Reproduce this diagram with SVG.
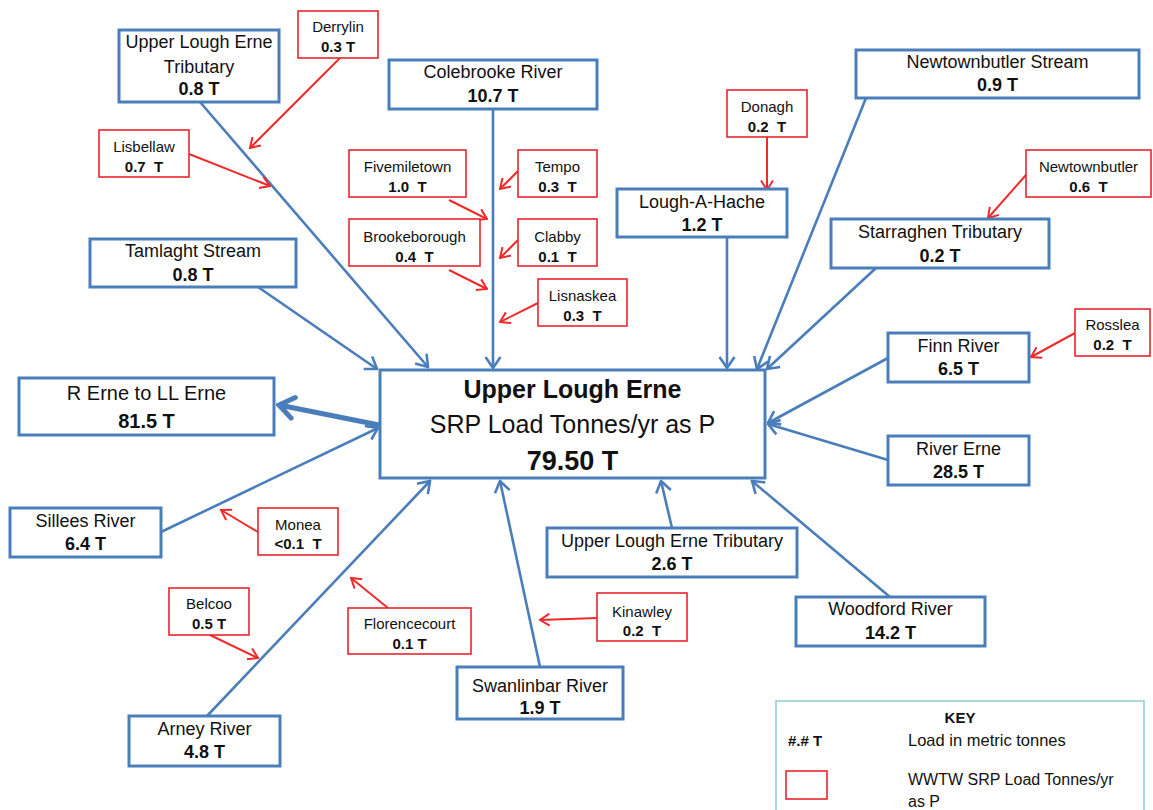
<svg xmlns="http://www.w3.org/2000/svg" width="1153" height="810" viewBox="0 0 1153 810">
<style>
text{font-family:"Liberation Sans",Arial,sans-serif;fill:#111;text-anchor:middle}
.b rect{fill:#fff;stroke:#4A7EBB;stroke-width:3}
.r rect{fill:#fff;stroke:#E8262C;stroke-width:1.6}
.b text{font-size:18px}
.r text{font-size:15px}
.v{font-weight:bold}
.bl{stroke:#4A7EBB;stroke-width:2.6;fill:none;marker-end:url(#ab)}
.rl{stroke:#EE2A2A;stroke-width:2;fill:none;marker-end:url(#ar)}
</style>
<defs>
<marker id="ab" viewBox="0 0 14 18" refX="12.5" refY="9" markerWidth="14" markerHeight="18" markerUnits="userSpaceOnUse" orient="auto">
<path d="M1.5,1.5 L12.5,9 L1.5,16.5" fill="none" stroke="#4A7EBB" stroke-width="2.6"/>
</marker>
<marker id="ar" viewBox="0 0 12 14" refX="10.5" refY="7" markerWidth="12" markerHeight="14" markerUnits="userSpaceOnUse" orient="auto">
<path d="M1,1 L10.5,7 L1,13" fill="none" stroke="#EE2A2A" stroke-width="2"/>
</marker>
<marker id="at" viewBox="0 0 20 26" refX="17" refY="13" markerWidth="20" markerHeight="26" markerUnits="userSpaceOnUse" orient="auto">
<path d="M2.5,2.5 L17,13 L2.5,23.5" fill="none" stroke="#4A7EBB" stroke-width="5" stroke-linecap="round"/>
</marker>
</defs>
<rect width="1153" height="810" fill="#fff"/>
<g id="connectors">
<line class="bl" x1="200" y1="102" x2="428" y2="367"/>
<line class="bl" x1="258" y1="287" x2="377" y2="369"/>
<line class="bl" x1="493" y1="109" x2="493" y2="368"/>
<line class="bl" x1="727" y1="237" x2="727" y2="368"/>
<line class="bl" x1="866" y1="98" x2="757" y2="369"/>
<line class="bl" x1="876" y1="268" x2="767" y2="369"/>
<line class="bl" x1="888" y1="358" x2="768" y2="423"/>
<line class="bl" x1="888" y1="460" x2="768" y2="424"/>
<line class="bl" x1="890" y1="597" x2="752" y2="481"/>
<line class="bl" x1="672" y1="528" x2="661" y2="481"/>
<line class="bl" x1="540" y1="667" x2="500" y2="481"/>
<line class="bl" x1="207" y1="716" x2="430" y2="481"/>
<line class="bl" x1="161" y1="532" x2="378" y2="428"/>
<line x1="379" y1="425" x2="279" y2="405" stroke="#4A7EBB" stroke-width="5" marker-end="url(#at)"/>
<line class="rl" x1="340" y1="58" x2="250" y2="148"/>
<line class="rl" x1="189" y1="154" x2="270" y2="186"/>
<line class="rl" x1="449" y1="200" x2="487" y2="219"/>
<line class="rl" x1="518" y1="171" x2="500" y2="189"/>
<line class="rl" x1="449" y1="270" x2="487" y2="289"/>
<line class="rl" x1="518" y1="240" x2="500" y2="258"/>
<line class="rl" x1="538" y1="303" x2="500" y2="322"/>
<line class="rl" x1="767" y1="137" x2="767" y2="190"/>
<line class="rl" x1="1026" y1="175" x2="988" y2="218"/>
<line class="rl" x1="1075" y1="333" x2="1031" y2="357"/>
<line class="rl" x1="258" y1="532" x2="221" y2="510"/>
<line class="rl" x1="210" y1="635" x2="258" y2="658"/>
<line class="rl" x1="388" y1="608" x2="351" y2="578"/>
<line class="rl" x1="597" y1="618" x2="540" y2="620"/>
</g>
<g id="center" class="b">
<rect x="380" y="370" width="385" height="108"/>
<text x="572.5" y="398" class="v" style="font-size:25px">Upper Lough Erne</text>
<text x="572.5" y="433" style="font-size:25px">SRP Load Tonnes/yr as P</text>
<text x="572.5" y="470" class="v" style="font-size:27px">79.50 T</text>
</g>
<g id="ule-trib-top" class="b"><rect x="119" y="30" width="160" height="72"/><text x="199" y="48">Upper Lough Erne</text><text x="199" y="73">Tributary</text><text x="199" y="95" class="v">0.8 T</text></g>
<g id="colebrooke" class="b"><rect x="389" y="60" width="208" height="49"/><text x="493" y="78">Colebrooke River</text><text x="493" y="102" class="v">10.7 T</text></g>
<g id="tamlaght" class="b"><rect x="90" y="239" width="206" height="48"/><text x="193" y="257">Tamlaght Stream</text><text x="193" y="281" class="v">0.8 T</text></g>
<g id="lough-a-hache" class="b"><rect x="617" y="189" width="170" height="48"/><text x="702" y="208">Lough-A-Hache</text><text x="702" y="231" class="v">1.2 T</text></g>
<g id="newtownbutler-stream" class="b"><rect x="856" y="50" width="283" height="48"/><text x="997.5" y="68">Newtownbutler Stream</text><text x="997.5" y="91" class="v">0.9 T</text></g>
<g id="starraghen" class="b"><rect x="831" y="219" width="218" height="49"/><text x="940" y="238">Starraghen Tributary</text><text x="940" y="262" class="v">0.2 T</text></g>
<g id="finn" class="b"><rect x="888" y="333" width="141" height="49"/><text x="958.5" y="352">Finn River</text><text x="958.5" y="375" class="v">6.5 T</text></g>
<g id="river-erne" class="b"><rect x="888" y="436" width="141" height="49"/><text x="958.5" y="455">River Erne</text><text x="958.5" y="478" class="v">28.5 T</text></g>
<g id="woodford" class="b"><rect x="796" y="597" width="189" height="49"/><text x="890.5" y="615">Woodford River</text><text x="890.5" y="639" class="v">14.2 T</text></g>
<g id="ule-trib-bottom" class="b"><rect x="547" y="528" width="250" height="49"/><text x="672" y="547">Upper Lough Erne Tributary</text><text x="672" y="570" class="v">2.6 T</text></g>
<g id="swanlinbar" class="b"><rect x="457" y="667" width="166" height="52"/><text x="540" y="692">Swanlinbar River</text><text x="540" y="714" class="v">1.9 T</text></g>
<g id="arney" class="b"><rect x="129" y="716" width="151" height="50"/><text x="204.5" y="735">Arney River</text><text x="204.5" y="758" class="v">4.8 T</text></g>
<g id="sillees" class="b"><rect x="10" y="508" width="151" height="49"/><text x="85.5" y="527">Sillees River</text><text x="85.5" y="550" class="v">6.4 T</text></g>
<g id="r-erne-to-ll-erne" class="b"><rect x="19" y="378" width="255" height="57"/><text x="146.5" y="400" style="font-size:20px">R Erne to LL Erne</text><text x="146.5" y="428" class="v" style="font-size:20px">81.5 T</text></g>
<g id="derrylin" class="r"><rect x="298" y="11" width="80" height="47"/><text x="338" y="32">Derrylin</text><text x="338" y="52" class="v">0.3 T</text></g>
<g id="lisbellaw" class="r"><rect x="99" y="130" width="90" height="47"/><text x="144" y="152">Lisbellaw</text><text x="144" y="172" class="v" xml:space="preserve">0.7  T</text></g>
<g id="fivemiletown" class="r"><rect x="349" y="150" width="117" height="47"/><text x="407.5" y="172">Fivemiletown</text><text x="407.5" y="192" class="v" xml:space="preserve">1.0  T</text></g>
<g id="tempo" class="r"><rect x="518" y="150" width="79" height="47"/><text x="557.5" y="172">Tempo</text><text x="557.5" y="192" class="v" xml:space="preserve">0.3  T</text></g>
<g id="brookeborough" class="r"><rect x="349" y="219" width="131" height="47"/><text x="414.5" y="242">Brookeborough</text><text x="414.5" y="262" class="v" xml:space="preserve">0.4  T</text></g>
<g id="clabby" class="r"><rect x="518" y="219" width="79" height="47"/><text x="557.5" y="242">Clabby</text><text x="557.5" y="262" class="v" xml:space="preserve">0.1  T</text></g>
<g id="lisnaskea" class="r"><rect x="538" y="279" width="89" height="47"/><text x="582.5" y="301">Lisnaskea</text><text x="582.5" y="321" class="v" xml:space="preserve">0.3  T</text></g>
<g id="donagh" class="r"><rect x="727" y="90" width="80" height="47"/><text x="767" y="112">Donagh</text><text x="767" y="132" class="v" xml:space="preserve">0.2  T</text></g>
<g id="newtownbutler" class="r"><rect x="1026" y="150" width="125" height="47"/><text x="1088.5" y="172">Newtownbutler</text><text x="1088.5" y="192" class="v" xml:space="preserve">0.6  T</text></g>
<g id="rosslea" class="r"><rect x="1075" y="309" width="75" height="47"/><text x="1112.5" y="330">Rosslea</text><text x="1112.5" y="350" class="v" xml:space="preserve">0.2  T</text></g>
<g id="monea" class="r"><rect x="258" y="508" width="80" height="47"/><text x="298" y="530">Monea</text><text x="298" y="549" class="v" xml:space="preserve">&lt;0.1  T</text></g>
<g id="belcoo" class="r"><rect x="169" y="588" width="80" height="47"/><text x="209" y="609">Belcoo</text><text x="209" y="629" class="v">0.5 T</text></g>
<g id="florencecourt" class="r"><rect x="348" y="608" width="123" height="46"/><text x="409.5" y="629">Florencecourt</text><text x="409.5" y="649" class="v">0.1 T</text></g>
<g id="kinawley" class="r"><rect x="597" y="593" width="90" height="48"/><text x="642" y="617">Kinawley</text><text x="642" y="636" class="v" xml:space="preserve">0.2  T</text></g>
<g id="key">
<rect x="776" y="701" width="368" height="115" fill="#fff" stroke="#8FCAD4" stroke-width="1.5"/>
<text x="960" y="723" class="v" style="font-size:15px">KEY</text>
<text x="788" y="746" class="v" style="font-size:15px;text-anchor:start">#.# T</text>
<text x="908" y="746" style="font-size:16.5px;text-anchor:start">Load in metric tonnes</text>
<rect x="786" y="771" width="41" height="28" fill="#fff" stroke="#E8262C" stroke-width="1.6"/>
<text x="908" y="785" style="font-size:16px;text-anchor:start">WWTW SRP Load Tonnes/yr</text>
<text x="908" y="807" style="font-size:16px;text-anchor:start">as P</text>
</g>
</svg>
